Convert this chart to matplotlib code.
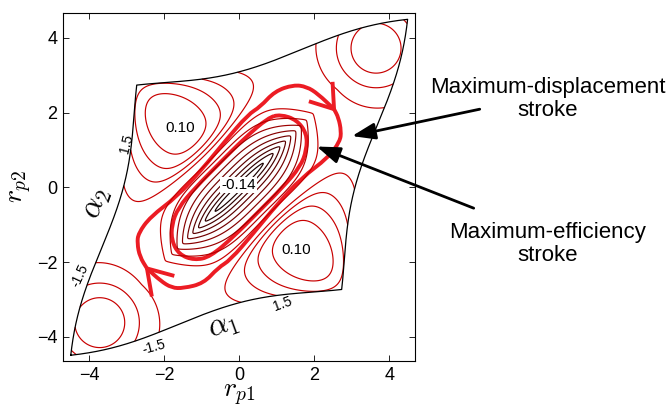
import numpy as np
import matplotlib.pyplot as plt
from matplotlib.path import Path
from matplotlib.patches import PathPatch
from matplotlib.colors import LinearSegmentedColormap, Normalize

plt.rcParams['font.family'] = ['Liberation Sans', 'DejaVu Sans']
plt.rcParams['mathtext.fontset'] = 'cm'

# map from shape angles (alpha1, alpha2) to the r_p coordinates
map_p, map_q, map_c, map_k = 1.15, 0.28, 0.15, 0.12

# curvature field: base level, central trough, off-diagonal plateaus, diagonal bumps
base = 0.01
well_depth, well_e, well_d = 0.15, 0.82, 2.3
high_h, high_e0, high_s, high_dw = 0.10, 1.30, 0.15, 1.8
edge_drop, edge_tau = 0.4, 0.35
bump_x = [3.65, -3.72]
bump_y = [3.72, -3.62]
bump_h, bump_w = 0.07, 1.15

levels = [-0.126, -0.112, -0.098, -0.084, -0.070, -0.056, -0.042, -0.028,
          -0.014, 0.02, 0.04, 0.06, 0.08]

# strokes (r_p1, r_p2), clockwise
disp_x = [-1.66, -1.0, -0.38, 0.24, 0.56, 0.95, 1.45, 1.80, 2.10, 2.53, 2.53,
          2.65, 2.72, 2.69, 2.37, 1.66, 1.0, 0.38, -0.24, -0.56, -0.95, -1.49,
          -1.80, -2.10, -2.46, -2.46, -2.65, -2.72, -2.69, -2.37]
disp_y = [-0.25, 0.47, 1.23, 1.95, 2.15, 2.57, 2.74, 2.69, 2.50, 2.09, 2.09,
          1.86, 1.50, 1.23, 0.79, 0.25, -0.47, -1.23, -1.95, -2.15, -2.57, -2.70,
          -2.69, -2.50, -2.17, -2.17, -1.86, -1.50, -1.23, -0.79]
eff_x = [1.10, 1.54, 1.80, 1.80, 1.63, 1.18, 0.47, -0.15, -0.77, -1.20, -1.60,
         -1.80, -1.80, -1.63, -1.18, -0.47, 0.15, 0.77]
eff_y = [1.95, 1.80, 1.44, 1.00, 0.55, 0.02, -0.70, -1.32, -1.86, -1.95, -1.80,
         -1.44, -1.00, -0.55, -0.02, 0.70, 1.32, 1.86]
# short extra arms that make the arrowheads on the displacement stroke
arm_tip = [(2.53, 2.09), (-2.46, -2.17)]
arm_ends = [[(2.49, 2.82), (1.86, 2.30)], [(-2.33, -2.92), (-1.73, -2.37)]]

stroke_red = '#ec1c24'


def smooth_loop(xs, ys):
    pts = np.column_stack([xs, ys])
    nxt = np.roll(pts, -1, axis=0)
    mids = (pts + nxt) / 2
    verts = [mids[-1]]
    codes = [Path.MOVETO]
    for i in range(len(pts)):
        verts += [pts[i], mids[i]]
        codes += [Path.CURVE3, Path.CURVE3]
    return Path(verts, codes)


a = np.linspace(-np.pi, np.pi, 401)
A1, A2 = np.meshgrid(a, a)
R1 = map_p*A1 + map_q*A2 + map_c*np.sin(A2) - map_k*np.sin(A1/2)*(1 + np.cos(A2))
R2 = map_q*A1 + map_p*A2 + map_c*np.sin(A1) - map_k*np.sin(A2/2)*(1 + np.cos(A1))

d = (R1 + R2) / np.sqrt(2)
e = (R1 - R2) / np.sqrt(2)
F = base - well_depth*np.exp(-np.sqrt(e**2 + 0.03**2)/well_e - np.abs(d/well_d)**3)
taper = ((1 - edge_drop*np.exp(-(np.pi - np.abs(A1))/edge_tau))
         * (1 - edge_drop*np.exp(-(np.pi - np.abs(A2))/edge_tau)))
F = F + (high_h/(1 + np.exp(-(np.abs(e) - high_e0)/high_s))
         * np.exp(-(d/high_dw)**2) * taper)
for x0, y0 in zip(bump_x, bump_y):
    F = F + bump_h*np.exp(-((R1 - x0)**2 + (R2 - y0)**2)/bump_w**2)

cmap = LinearSegmentedColormap.from_list('kr', ['#1a0000', '#c80000'])
norm = Normalize(-0.126, -0.014, clip=True)
cols = [cmap(norm(L)) for L in levels]

fig = plt.figure(figsize=(6.7, 4.09), dpi=100)
ax = fig.add_axes([0.094, 0.117, 0.526, 0.852])

ax.contour(R1, R2, F, levels=levels, colors=cols, linewidths=0.85)

bx = np.concatenate([R1[0, :], R1[:, -1], R1[-1, ::-1], R1[::-1, 0]])
by = np.concatenate([R2[0, :], R2[:, -1], R2[-1, ::-1], R2[::-1, 0]])
ax.plot(bx, by, color='k', lw=0.9)

ax.add_patch(PathPatch(smooth_loop(disp_x, disp_y), fill=False, ec=stroke_red, lw=2.8))
ax.add_patch(PathPatch(smooth_loop(eff_x, eff_y), fill=False, ec=stroke_red, lw=2.8))
for tip, ends in zip(arm_tip, arm_ends):
    for end in ends:
        ax.plot([tip[0], end[0]], [tip[1], end[1]], color=stroke_red, lw=2.8,
                solid_capstyle='butt')

ax.text(-1.57, 1.58, '0.10', fontsize=11, ha='center', va='center')
ax.text(1.51, -1.68, '0.10', fontsize=11, ha='center', va='center')
ax.text(-0.02, 0.06, '-0.14', fontsize=11, ha='center', va='center',
        bbox=dict(facecolor='white', edgecolor='none', pad=1))
ax.text(1.16, -3.11, '1.5', fontsize=10, ha='center', va='center', rotation=20)
ax.text(-2.29, -4.27, '-1.5', fontsize=10, ha='center', va='center', rotation=15)
ax.text(-3.01, 1.17, '1.5', fontsize=10, ha='center', va='center', rotation=75)
ax.text(-4.24, -2.35, '-1.5', fontsize=10, ha='center', va='center', rotation=65)
ax.text(-0.43, -3.69, r'$\alpha_1$', fontsize=22, ha='center', va='center', rotation=20)
ax.text(-3.80, -0.43, r'$\alpha_2$', fontsize=22, ha='center', va='center', rotation=70)

ax.set_xlim(-4.7, 4.7)
ax.set_ylim(-4.65, 4.67)
ax.set_xticks([-4, -2, 0, 2, 4])
ax.set_yticks([-4, -2, 0, 2, 4])
ax.tick_params(direction='in', top=True, right=True, length=4, width=0.6,
               labelsize=13, pad=4)
for s in ax.spines.values():
    s.set_linewidth(0.8)
ax.set_xlabel(r'$r_{p1}$', fontsize=20, labelpad=-1)
ax.set_ylabel(r'$r_{p2}$', fontsize=20, labelpad=2)

arrow = dict(arrowstyle='-|>,head_length=0.7,head_width=0.25', lw=2.0, color='k',
             mutation_scale=20, shrinkA=0, shrinkB=0)
ax.annotate('', xy=(3.01, 1.37), xytext=(0.716, 0.733), textcoords='figure fraction',
            arrowprops=arrow, annotation_clip=False)
ax.annotate('', xy=(2.07, 1.09), xytext=(0.707, 0.491), textcoords='figure fraction',
            arrowprops=arrow, annotation_clip=False)
fig.text(0.817, 0.758, 'Maximum-displacement\nstroke', fontsize=16,
         ha='center', va='center', linespacing=1.15)
fig.text(0.817, 0.403, 'Maximum-efficiency\nstroke', fontsize=16,
         ha='center', va='center', linespacing=1.15)

fig.savefig('out.png', dpi=100)
